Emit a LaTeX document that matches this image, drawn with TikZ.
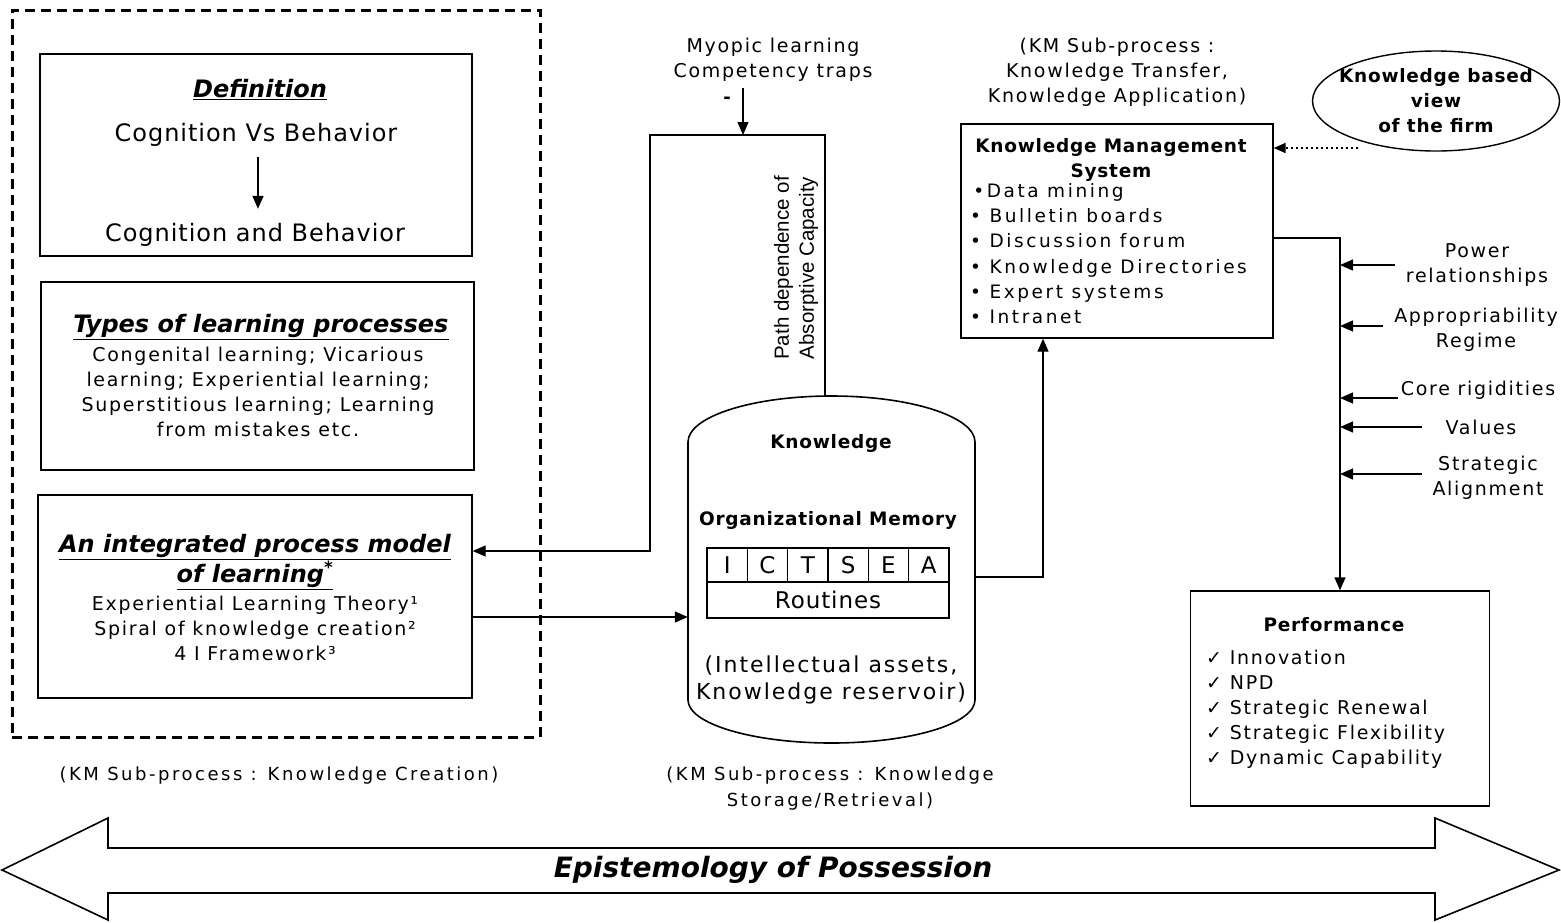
\documentclass[tikz,border=0pt]{standalone}
\usepackage{fontspec}
\setmainfont{DejaVu Sans}
\newfontfamily\spaced{DejaVu Sans}[LetterSpace=9]
\newfontfamily\widespaced{DejaVu Sans}[LetterSpace=14]
\newfontfamily\bspaced{DejaVu Sans}[LetterSpace=4]
\newfontfamily\narrowfont{Liberation Sans}
\usetikzlibrary{arrows.meta,shapes.geometric,positioning}
\begin{document}
\begin{tikzpicture}[x=1pt,y=-1pt,
    box/.style={draw, line width=1.4pt, inner sep=0pt},
    arr/.style={-{Triangle[length=13pt,width=11pt]}, line width=1.4pt},
    txt/.style={inner sep=0pt, align=center, font=\spaced\fontsize{19}{25}\selectfont},
    btxt/.style={inner sep=0pt, align=center, font=\bspaced\bfseries\fontsize{18.5}{25}\selectfont},
    big/.style={inner sep=0pt, align=center, font=\bspaced\fontsize{24}{30}\selectfont},
    head/.style={inner sep=0pt, align=center, font=\bfseries\itshape\fontsize{24}{30}\selectfont}]
    \useasboundingbox (0,0) rectangle (1561,922);

    % Knowledge creation (dashed frame)
    \node (creation) [draw, line width=3pt, dash pattern=on 10pt off 6pt, minimum width=528pt, minimum height=727pt] at (276,373.5) {};

    \node (defbox) [box, minimum width=432pt, minimum height=202pt] at (256,155) {};
    \node (deftitle) [head] at (260,90) {\underline{Definition}};
    \node (cvb) [big] at (256,135) {Cognition Vs Behavior};
    \node (cab) [big] at (255,235) {Cognition and Behavior};
    \draw[arr] (cvb.south) ++(2,10) -- ++(0,52);

    \node (typebox) [box, minimum width=433pt, minimum height=188pt] at (257.5,376) {};
    \node (typetitle) [head] at (261,327) {\underline{Types of learning processes}};
    \node (types) [txt] at (258,391.5) {Congenital learning; Vicarious\\learning; Experiential learning;\\Superstitious learning; Learning\\from mistakes etc.};

    \node (modelbox) [box, minimum width=434pt, minimum height=203pt] at (255,596.5) {};
    \node (modeltitle) [head] at (255,562) {\underline{An integrated process model}\\\underline{of learning\textsuperscript{*}}};
    \node (models) [txt] at (255,628) {Experiential Learning Theory¹\\Spiral of knowledge creation²\\4 I Framework³};

    \node (creationcap) [txt, font=\widespaced\fontsize{18}{25}\selectfont] at (279,776) {(KM Sub-process : Knowledge Creation)};

    % Organizational memory (cylinder)
    \draw[line width=1.6pt] (688,442) arc[start angle=180, end angle=0, x radius=143.5pt, y radius=46pt]
        -- (975,700) arc[start angle=0, end angle=-180, x radius=143.5pt, y radius=43pt] -- cycle;
    \node (mem) [inner sep=0pt, minimum width=287pt, minimum height=250pt] at (831.5,617) {};
    \node (knowledge) [btxt] at (831,443) {Knowledge};
    \node (orgmem) [btxt] at (828,520) {Organizational Memory};
    \foreach \l [count=\i] in {I,C,T,S,E,A}
        \node (cell\i) [box, line width=1.2pt, minimum width=40.33pt, minimum height=34pt, font=\fontsize{23}{26}\selectfont] at ({707+40.33*(\i-0.5)},565) {\l};
    \node (routines) [box, line width=1.2pt, minimum width=242pt, minimum height=36pt, font=\bspaced\fontsize{23}{26}\selectfont] at (828,600) {Routines};
    \node (assets) [txt, font=\spaced\fontsize{22}{27}\selectfont] at (831,680) {(Intellectual assets,\\Knowledge reservoir)};
    \node (storagecap) [txt, font=\widespaced\fontsize{18}{26}\selectfont] at (830,789) {(KM Sub-process : Knowledge\\Storage/Retrieval)};

    % Feedback loop
    \coordinate (memtop) at (825,397);
    \coordinate (looptop) at (743,135);
    \draw[arr] (memtop) -- (825,135) -- (650,135) |- ([yshift=45.5pt]modelbox.east);
    \node (myopic) [txt] at (773,60) {Myopic learning\\Competency traps};
    \draw[arr] (looptop |- myopic.south) ++(0,6) -- (looptop);
    \node (minus) [txt, font=\bfseries\fontsize{18}{25}\selectfont] at (727,100) {-};
    \node (pathdep) [txt, rotate=90, font=\narrowfont\fontsize{20.5}{25}\selectfont] at (796,268) {Path dependence of\\Absorptive Capacity};

    \draw[arr] ([yshift=-20.5pt]modelbox.east) -- (mem.west);

    % Knowledge management system
    \node (kms) [box, minimum width=312pt, minimum height=214pt] at (1117,231) {};
    \node (transfercap) [txt] at (1117,72) {(KM Sub-process :\\Knowledge Transfer,\\Knowledge Application)};
    \node (kmstitle) [btxt] at (1111,160) {Knowledge Management\\System};
    \node (kmslist) [txt, align=left, anchor=north west, font=\widespaced\fontsize{18.5}{25.3}\selectfont] at (970,183) {\,•Data mining\\• Bulletin boards\\• Discussion forum\\• Knowledge Directories\\• Expert systems\\• Intranet};
    \coordinate (memout) at (975,577);
    \draw[arr] (memout) -| ([xshift=-74pt]kms.south);

    \node (kbv) [ellipse, draw, line width=1.4pt, minimum width=247pt, minimum height=100pt] at (1436,101) {};
    \node (kbvtext) [btxt] at (kbv) {Knowledge based\\view\\of the firm};
    \coordinate (kbvtip) at (1358,148);
    \draw[line width=2pt, dash pattern=on 2pt off 3pt, -{Triangle[length=12pt,width=10pt]}] (kbvtip) -- (kbvtip -| kms.east);

    % Performance and moderators
    \node (perf) [box, minimum width=299pt, minimum height=215pt] at (1340,698.5) {};
    \node (perftitle) [btxt] at (1334,625) {Performance};
    \node (perflist) [txt, align=left, anchor=north west] at (1206,650) {✓ Innovation\\✓ NPD\\✓ Strategic Renewal\\✓ Strategic Flexibility\\✓ Dynamic Capability};
    \draw[arr] ([yshift=-7pt]kms.east) -| (perf.north);

    \node (power) [txt] at (1477,265) {Power\\relationships};
    \node (approp) [txt] at (1476,330) {Appropriability\\Regime};
    \node (core) [txt] at (1478,390) {Core rigidities};
    \node (values) [txt] at (1481,427) {Values};
    \node (align) [txt] at (1488,478) {Strategic\\Alignment};
    \coordinate (powerin) at (1395,265);
    \coordinate (appropin) at (1383,326);
    \coordinate (corein) at (1398,398);
    \coordinate (valuesin) at (1422,427);
    \coordinate (alignin) at (1422,474);
    \foreach \f in {powerin,appropin,corein,valuesin,alignin}
        \draw[arr] (\f) -- (\f -| perf.north);

    % Epistemology of possession
    \draw[line width=1.6pt, line join=miter] (2,870) -- (108,818) -- (108,848) -- (1435,848) -- (1435,818) -- (1559,870)
        -- (1435,920) -- (1435,893) -- (108,893) -- (108,920) -- cycle;
    \node (epi) [inner sep=0pt, font=\bfseries\itshape\fontsize{28}{32}\selectfont] at (773,870) {Epistemology of Possession};
\end{tikzpicture}
\end{document}
